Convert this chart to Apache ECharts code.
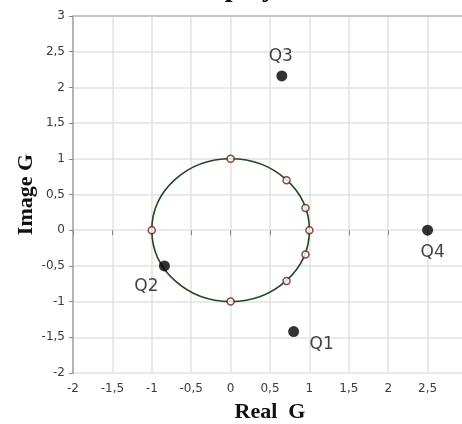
<!DOCTYPE html>
<html>
<head>
<meta charset="utf-8">
<script src="https://cdn.jsdelivr.net/npm/echarts@6/dist/echarts.min.js"></script>
<style>
html,body{margin:0;padding:0;background:#fff;}
#chart{width:462px;height:424px;}
</style>
</head>
<body>
<div id="chart"></div>
<script>
// ---- data ----
const titleText = 'Display';
const xAxisName = 'Real  G';
const yAxisName = 'Image G';
const xTickLabels = ['-2', '-1,5', '-1', '-0,5', '0', '0,5', '1', '1,5', '2', '2,5', '3'];
const yTickLabels = ['-2', '-1,5', '-1', '-0,5', '0', '0,5', '1', '1,5', '2', '2,5', '3'];
const unitCircleCenter = [0, 0];
const unitCircleRadius = 1;
const circleMarkReal = [0, 0.71, 0.95, 1, 0.95, 0.71, 0, -1];
const circleMarkImag = [1, 0.70, 0.31, 0, -0.34, -0.71, -1, 0];
const poleNames = ['Q1', 'Q2', 'Q3', 'Q4'];
const poleReal = [0.80, -0.84, 0.65, 2.5];
const poleImag = [-1.42, -0.50, 2.16, 0];

// ---- styling ----
const labelOffsets = { Q1: [28, 13], Q2: [-18, 21], Q3: [-1, -19], Q4: [5, 22] };
const AX_MIN = -2, AX_MAX = 3, STEP = 0.5;
const tickIdx = v => Math.round((v - AX_MIN) / STEP);

const chart = echarts.init(document.getElementById('chart'), null, { renderer: 'canvas' });

const option = {
  backgroundColor: '#ffffff',
  animation: false,
  title: {
    text: titleText,
    left: 'center',
    top: -30,
    textStyle: { fontFamily: 'Liberation Serif', fontSize: 28, fontWeight: 'bold', color: '#000' }
  },
  grid: { left: 73, top: 16, width: 394, height: 357, containLabel: false, outerBoundsMode: 'none' },
  xAxis: [{
    type: 'value', min: AX_MIN, max: AX_MAX, interval: STEP,
    name: xAxisName, nameLocation: 'middle', nameGap: 28, nameMoveOverlap: false,
    nameTextStyle: { fontFamily: 'Liberation Serif', fontSize: 22, fontWeight: 'bold', color: '#111' },
    axisLine: { show: false },
    axisTick: { show: true, length: 5, lineStyle: { color: '#888', width: 1 } },
    axisLabel: {
      margin: 10, fontFamily: 'DejaVu Sans', fontSize: 12, color: '#3a3a3a',
      showMaxLabel: false,
      formatter: v => xTickLabels[tickIdx(v)]
    },
    splitLine: { show: true, lineStyle: { color: '#e2e2e2', width: 1.5 } }
  }, {
    type: 'value', min: AX_MIN, max: AX_MAX, interval: STEP, position: 'top',
    axisLine: { show: true, onZero: false, lineStyle: { color: '#c6c6c6', width: 2 } },
    axisTick: { show: false }, axisLabel: { show: false }, splitLine: { show: false }
  }],
  yAxis: {
    type: 'value', min: AX_MIN, max: AX_MAX, interval: STEP,
    name: yAxisName, nameLocation: 'middle', nameGap: 36, nameMoveOverlap: false,
    nameTextStyle: { fontFamily: 'Liberation Serif', fontSize: 22, fontWeight: 'bold', color: '#111' },
    axisLine: { show: true, onZero: false, lineStyle: { color: '#b4b4b4', width: 2 } },
    axisTick: { show: true, length: 4, lineStyle: { color: '#888', width: 1 } },
    axisLabel: {
      margin: 8, fontFamily: 'DejaVu Sans', fontSize: 12, color: '#3a3a3a',
      formatter: v => yTickLabels[tickIdx(v)]
    },
    splitLine: { show: true, lineStyle: { color: '#e2e2e2', width: 1.5 } }
  },
  series: [
    {
      type: 'custom',
      z: 2,
      data: [[unitCircleCenter[0], unitCircleCenter[1], unitCircleRadius]],
      renderItem: function (params, api) {
        const c = api.coord([api.value(0), api.value(1)]);
        const s = api.size([api.value(2), api.value(2)]);
        return {
          type: 'ellipse',
          shape: { cx: c[0], cy: c[1], rx: s[0], ry: s[1] },
          style: { fill: 'none', stroke: '#1f4a1f', lineWidth: 1.6 }
        };
      }
    },
    {
      type: 'scatter',
      z: 3,
      symbol: 'circle',
      symbolSize: 7,
      itemStyle: { color: '#ffffff', borderColor: '#6e1616', borderWidth: 1.5 },
      data: circleMarkReal.map((x, i) => [x, circleMarkImag[i]])
    },
    {
      type: 'scatter',
      z: 4,
      symbol: 'circle',
      symbolSize: 11,
      itemStyle: { color: '#000000' },
      label: {
        show: true, position: 'inside', formatter: p => p.name,
        fontFamily: 'DejaVu Sans', fontSize: 17, color: '#111'
      },
      data: poleNames.map((n, i) => ({
        name: n,
        value: [poleReal[i], poleImag[i]],
        label: { offset: labelOffsets[n] }
      }))
    }
  ]
};
chart.setOption(option);
</script>
</body>
</html>
